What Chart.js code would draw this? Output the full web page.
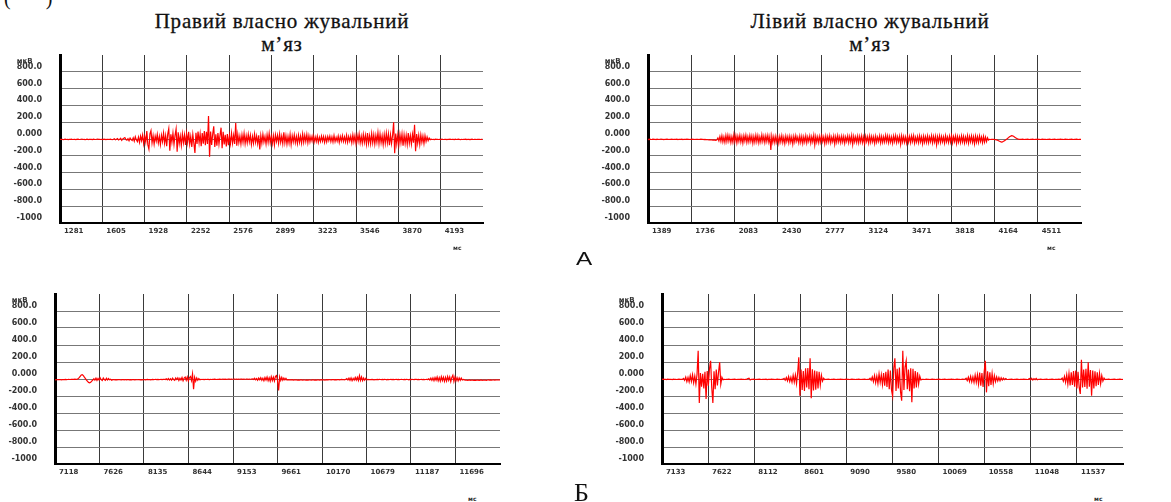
<!DOCTYPE html>
<html lang="uk">
<head>
<meta charset="utf-8">
<title>ЕМГ власно жувальних м’язів</title>
<script src="https://cdn.jsdelivr.net/npm/chart.js@4.4.1/dist/chart.umd.min.js"></script>
<style>
  html, body { margin: 0; padding: 0; background: #fff; }
  body { width: 1171px; height: 502px; position: relative; overflow: hidden; }
  canvas { position: absolute; }
  .title { position: absolute; width: 340px; text-align: center; font-family: "Liberation Serif", "DejaVu Serif", serif;
           font-size: 21px; line-height: 23px; letter-spacing: 0.8px; color: #111; -webkit-text-stroke: 0.3px #111; }
  .unit { position: absolute; font-family: "DejaVu Sans", sans-serif; font-weight: bold; font-size: 6px; color: #333; }
  .mark { position: absolute; color: #111; line-height: 1; }
</style>
</head>
<body>

<div class="mark" style="left:4px; top:-12px; font-family:'Liberation Serif',serif; font-size:20px;">(&nbsp;&nbsp;&nbsp;&nbsp;&nbsp;&nbsp;&nbsp;)</div>
<div class="title" style="left:112px; top:10px;">Правий власно жувальний<br>м’яз</div>
<div class="title" style="left:700px; top:10px;">Лівий власно жувальний<br>м’яз</div>

<canvas id="right-a" width="500" height="218" style="left:0px; top:30px;"></canvas>
<canvas id="left-a" width="510" height="218" style="left:585px; top:30px;"></canvas>
<canvas id="right-b" width="520" height="220" style="left:0px; top:269px;"></canvas>
<canvas id="left-b" width="586" height="220" style="left:585px; top:269px;"></canvas>

<div class="unit" style="left:453px; top:244px;">мс</div>
<div class="unit" style="left:1047px; top:244px;">мс</div>
<div class="unit" style="left:468px; top:495px;">мс</div>
<div class="unit" style="left:1094px; top:495px;">мс</div>

<div class="mark" style="left:576px; top:250px; font-family:'Liberation Sans',sans-serif; font-size:18px; transform:scaleX(1.35); transform-origin:left top;">А</div>
<div class="mark" style="left:574px; top:480px; font-family:'Liberation Serif',serif; font-size:26px;">Б</div>

<script>
// time axis labels (ms) of each recording
const ticksRightA = [1281, 1605, 1928, 2252, 2576, 2899, 3223, 3546, 3870, 4193];
const ticksLeftA  = [1389, 1736, 2083, 2430, 2777, 3124, 3471, 3818, 4164, 4511];
const ticksRightB = [7118, 7626, 8135, 8644, 9153, 9661, 10170, 10679, 11187, 11696];
const ticksLeftB  = [7133, 7622, 8112, 8601, 9090, 9580, 10069, 10558, 11048, 11537];

// amplitude axis labels (µV), bottom to top
const yTickLabels = ['-1000', '-800.0', '-600.0', '-400.0', '-200.0', '0.000', '200.0', '400.0', '600.0', '800.0', ''];

// sampling step of the traces (ms)
const sampleStepA = 8;
const sampleStepB = 12;

// А – right masseter (µV)
const emgRightA = [
  -4, -6, -3, -7, -5, -2, -6, -4, -8, -3,
  -5, -2, -6, -5, -3, -7, -4, -1, -5, -6,
  -3, -2, -6, -4, -7, -5, -2, -6, -3, -5,
  -4, -7, -2, -5, -6, -3, -1, -5, -4, -6,
  -3, -6, -2, -5, -8, -3, -4, -6, -2, -5,
  -7, -3, 4, -10, -2, 6, -12, -4, 8, -15,
  2, 10, 18, -6, -14, 4, -20, 12, -8, -18,
  15, -25, 28, -10, -32, 22, -40, 35, -20, 48,
  -55, 30, -38, 95, -70, -120, 60, 100, -45, 40,
  -60, 35, -25, 55, -48, 30, -65, 45, -30, 70,
  -50, 40, -85, 60, 125, -140, 55, -40, 70, -65,
  45, 120, -150, 80, -55, 35, -75, 60, -45, 50,
  -70, 65, -40, 85, -60, 30, -95, 55, -50, -165,
  75, -60, 90, -45, 60, -85, 70, -55, 95, -75,
  85, -60, 275, -210, 90, -70, 60, 150, -95, 55,
  -80, 70, -60, 45, 135, -110, 85, -65, 50, -90,
  60, -75, 40, -55, 70, -50, 45, -60, 190, -80,
  55, -45, 35, -60, 50, -40, 65, -55, 40, -45,
  55, -35, 45, -65, 30, -50, 60, -40, 35, -55,
  45, -125, 40, -50, 55, -35, 30, -60, 50, -40,
  65, -45, 35, -55, 40, -70, 50, -30, 45, -50,
  60, -40, 35, -55, 80, -45, 40, -60, 30, -50,
  55, -65, 40, -35, 50, -45, 30, -55, 45, -40,
  35, -50, 60, -40, 45, -30, 55, -45, 40, -35,
  30, -25, 40, -35, 25, -30, 35, -40, 20, -30,
  35, -25, 30, -40, 25, -35, 30, -20, 35, -30,
  25, -35, 40, -30, 20, -25, 35, -40, 30, -25,
  40, -30, 25, -35, 45, -40, 30, -25, 35, -45,
  50, -35, 40, -55, 45, -30, 60, -45, 35, -50,
  55, -40, 45, -60, 70, -50, 40, -55, 65, -45,
  50, -60, 45, -40, 75, -55, 60, -45, 40, -65,
  55, -50, 70, -45, 60, -75, 50, -55, 45, 200,
  -170, 65, -60, 50, -70, 55, -45, 60, -80, 50,
  -55, 45, -65, 70, -50, 40, -60, 55, -45, 170,
  -145, 60, -50, 45, -65, 50, -40, 35, -55, 40,
  -30, 25, -20, 12, -8, -3, -6, -4, -7, -2,
  -5, -3, -6, -4, -8, -2, -5, -6, -3, -4,
  -7, -3, -5, -2, -6, -4, -5, -8, -3, -6,
  -4, -2, -5, -7, -3, -6, -4, -5, -2, -6,
  -3, -5, -7, -4, -2, -6, -5, -3, -6, -4,
  -5, -3, -6, -4, -5
];

// А – left masseter (µV)
const emgLeftA = [
  -3, -5, -2, -6, -4, -1, -5, -3, -6, -2,
  -4, -6, -3, -2, -5, -4, -7, -3, -5, -2,
  -4, -6, -3, -5, -2, -6, -4, -3, -5, -2,
  -6, -3, -4, -5, -2, -6, -3, -5, -4, -2,
  -5, -3, -6, -4, -2, -5, -3, -6, -4, -5,
  -3, -6, -4, -2, -5, -3, -7, -4, -8, -6,
  -9, -11, -8, -12, -10, -14, -11, -13, -15, -10,
  12, -22, 30, -28, 38, -35, 25, -40, 42, -30,
  45, -25, 35, -42, 28, -38, 50, -30, 40, -45,
  32, -28, 44, -36, 30, -48, 38, -25, 46, -40,
  28, -35, 42, -30, 36, -50, 30, -38, 45, -32,
  40, -45, 26, -35, 48, -30, 34, -42, 38, -28,
  44, -36, 30, -130, 35, -40, 28, -45, 32, -38,
  25, -50, 30, -35, 40, -42, 22, -55, 35, -30,
  28, -46, 33, -38, 25, -60, 30, -35, 40, -28,
  22, -44, 35, -40, 30, -52, 26, -36, 38, -45,
  24, -30, 36, -48, 28, -34, 42, -70, 30, -38,
  25, -42, 32, -36, 40, -30, 26, -55, 34, -40,
  30, -35, 38, -45, 22, -32, 35, -60, 28, -38,
  40, -34, 26, -42, 33, -36, 30, -50, 24, -30,
  36, -44, 28, -38, 40, -65, 32, -35, 26, -40,
  34, -46, 30, -36, 38, -42, 25, -55, 33, -30,
  28, -48, 36, -40, 30, -34, 26, -52, 34, -38,
  22, -30, 38, -45, 30, -40, 26, -36, 42, -32,
  35, -44, 28, -38, 24, -50, 36, -30, 40, -42,
  26, -34, 32, -62, 38, -36, 30, -40, 25, -46,
  34, -38, 28, -44, 36, -30, 40, -48, 22, -36,
  30, -42, 38, -34, 26, -56, 32, -38, 28, -40,
  36, -44, 24, -32, 40, -46, 30, -36, 34, -68,
  28, -38, 36, -42, 30, -34, 26, -48, 38, -32,
  24, -40, 34, -36, 40, -44, 28, -30, 36, -52,
  30, -38, 26, -42, 38, -34, 32, -46, 24, -36,
  40, -48, 30, -34, 36, -40, 26, -58, 34, -38,
  28, -42, 36, -30, 24, -44, 32, -36, 22, -30,
  15, -12, -4, -6, -3, -5, -4, -6, -8, -10,
  -14, -20, -26, -32, -36, -34, -28, -20, -12, -4,
  6, 16, 26, 34, 40, 38, 32, 24, 16, 8,
  2, -2, -4, -3, -5, -2, -4, -6, -3, -5,
  -2, -4, -6, -3, -5, -2, -4, -6, -3, -4,
  -2, -5, -3, -6, -4, -2, -5, -3, -4, -6,
  -3, -5, -2, -4, -6, -3, -5, -2, -4, -6,
  -3, -5, -4, -2, -5, -3, -6, -4, -2, -5,
  -3, -6, -4, -5, -2, -4, -6, -3, -5, -2,
  -4, -6, -3, -5, -4
];

// Б – right masseter (µV)
const emgRightB = [
  -10, -8, -9, -7, -8, -6, -9, -7, -6, -8,
  -5, -7, -6, -4, -6, -5, -3, -5, -4, -2,
  -4, -3, 2, 15, 32, 48, 52, 40, 22, 5,
  -12, -28, -40, -46, -38, -25, -12, 4, -14, 10,
  -16, 6, -12, 14, -8, -18, 12, -6, -15, 8,
  -12, 5, -10, -3, -14, -8, -6, -9, -7, -10,
  -8, -6, -9, -11, -7, -8, -10, -6, -9, -7,
  -8, -10, -7, -9, -6, -8, -11, -7, -9, -8,
  -6, -9, -7, -10, -8, -6, -9, -7, -5, -8,
  -6, -9, -7, -5, -8, -6, -4, -7, -5, -8,
  -6, -4, -7, -5, -3, -6, 2, -10, 6, -12,
  4, -14, 10, -8, -16, 12, -6, 14, -18, 8,
  -12, 18, -20, 10, 22, -15, 25, -22, 15, 30,
  -18, 60, -120, 20, -25, 12, -15, 6, -10, -4,
  -6, -5, -7, -4, -6, -3, -5, -7, -4, -6,
  -3, -5, -2, -4, -6, -3, -5, -2, -4, -3,
  -1, -4, -2, -5, -3, 0, -2, -4, -1, -3,
  -2, 0, -3, -1, -4, -2, -3, 0, -2, -4,
  -1, -3, -2, 0, -4, -1, -3, -2, 2, -6,
  8, -10, 5, -14, 12, -8, 16, -15, 10, -20,
  18, -12, 24, -20, 15, -26, 28, -18, 22, -24,
  30, 40, -20, -135, 25, -18, 20, -15, 12, -10,
  8, -12, -8, -10, -9, -11, -8, -12, -10, -9,
  -11, -13, -10, -12, -9, -11, -13, -10, -12, -14,
  -11, -13, -10, -12, -14, -11, -9, -12, -10, -13,
  -11, -9, -12, -10, -8, -11, -9, -12, -10, -8,
  -10, -7, -9, -11, -8, -6, -9, -7, -10, -8,
  -6, -9, -7, -5, -8, -6, -9, -4, 4, -12,
  10, -16, 14, -20, 8, -14, 18, -12, 20, -18,
  40, -16, 24, -20, 12, -14, 8, -10, -4, -8,
  -6, -8, -5, -7, -9, -6, -8, -5, -7, -4,
  -6, -8, -5, -7, -4, -6, -9, -5, -7, -6,
  -4, -7, -5, -8, -6, -3, -7, -5, -8, -6,
  -4, -6, -8, -5, -7, -3, -6, -9, -5, -7,
  -4, -6, -8, -5, -3, -7, -5, -8, -6, -4,
  -7, -5, -8, -6, -4, -7, 2, -12, 10, -16,
  14, -20, 18, -14, 24, -22, 16, -26, 28, -18,
  22, -28, 20, -24, 30, -16, 26, -30, 18, 45,
  -28, 24, -20, 16, -22, 12, -16, 10, -12, -6,
  -10, -14, -12, -16, -13, -11, -15, -12, -14, -16,
  -13, -15, -12, -14, -16, -13, -11, -15, -12, -14,
  -13, -15, -12, -10, -13, -11, -14, -12, -10, -13,
  -11, -12, -10, -12, -11
];

// Б – left masseter (µV)
const emgLeftB = [
  -4, -2, -5, -3, -6, -2, -4, -5, -3, -6,
  -2, -5, -3, -6, -4, -2, -5, -3, -4, 8,
  -15, 22, -30, 18, -35, 40, -28, 50, -45, 35,
  -60, 55, 333, -282, 70, -90, 60, -110, 85, -235,
  95, -80, 120, 215, -100, -282, 90, -120, 110, -75,
  80, 196, -60, 20, -8, -4, -6, -3, -5, -2,
  -4, -6, -3, -5, -2, -4, -6, -3, -5, -4,
  -2, -5, -3, -6, -4, -2, 4, 10, -12, -3,
  -5, -2, -4, -6, -3, -5, -2, -4, -6, -3,
  -5, -4, -2, -6, -3, -5, -4, -2, -5, -3,
  -6, -4, -2, -5, -3, -6, -4, -2, 8, -14,
  18, -22, 28, -30, 20, -38, 42, -35, 48, -55,
  70, 255, -196, 110, -130, 95, -140, 125, -100, 130,
  -120, 243, -227, 115, -135, 100, -125, 90, -110, 85,
  -70, 45, -25, 10, -6, -3, -5, -2, -4, -6,
  -3, -5, -2, -4, -6, -3, -5, -4, -2, -5,
  -3, -6, -4, -2, -5, -3, -6, -4, -2, -5,
  -3, -6, -4, -5, -2, -4, -6, -3, -5, -2,
  -4, -6, -3, -5, 8, -15, 25, -30, 40, -45,
  35, -55, 60, -40, 50, -65, 70, -80, 85, -95,
  110, -120, 100, -130, -204, 125, 243, -140, 120, -110,
  135, -150, -255, 333, -130, 140, 215, -120, 110, -145,
  125, -274, 120, -110, 95, -100, 80, -60, 35, -10,
  -5, -3, -6, -4, -2, -5, -3, -6, -4, -2,
  -5, -3, -6, -4, -5, -2, -4, -6, -3, -5,
  -2, -4, -6, -3, -5, -4, -2, -5, -3, -6,
  -4, -2, -5, -3, -6, -4, -2, -5, -3, 10,
  -18, 22, -28, 30, -35, 25, -40, 45, -38, 50,
  -60, 75, -80, 70, -95, 85, 215, -157, 90, -85,
  80, -70, 65, -55, 40, -30, 25, -22, 18, -20,
  15, -12, 10, -8, 6, -4, -6, -3, -5, -2,
  -4, -6, -3, -5, -2, -4, -6, -3, -5, -4,
  -2, -5, -3, -6, -4, 6, -10, 8, -12, 5,
  -8, 6, -9, -3, -5, -2, -4, -6, -3, -5,
  -2, -4, -6, -3, -5, -2, -4, -6, -3, -5,
  -4, -2, -5, -3, 10, -25, 30, -40, 50, -60,
  65, -75, 80, -70, 95, -90, 100, -110, 85, -95,
  -176, 227, -100, 110, -95, 120, -115, 196, -90, 105,
  -196, 100, -110, 90, -85, 80, -70, 65, -55, 40,
  -25, 12, -6, -3, -5, -2, -4, -6, -3, -5,
  -2, -4, -6, -3, -5, -2, -4, -6, -3
];

// draws the "мкВ" unit above the top amplitude label
const unitLabel = {
  id: 'unitLabel',
  afterDraw(chart) {
    const ctx = chart.ctx;
    const y = chart.scales.y;
    ctx.save();
    ctx.font = 'bold 8px "DejaVu Sans"';
    const w = ctx.measureText('800.0').width;
    ctx.font = 'bold 7px "DejaVu Sans"';
    ctx.fillStyle = '#333';
    ctx.textAlign = 'left';
    ctx.textBaseline = 'middle';
    ctx.fillText('мкВ', y.right - 18 - w, y.getPixelForValue(800) - 11);
    ctx.restore();
  }
};

function createChart(id, ticks, values, step, axisWidth, pad) {
  const start = ticks[0];
  const end = ticks[ticks.length - 1] + (ticks[ticks.length - 1] - ticks[0]) / (ticks.length - 1);
  const points = values.map((v, i) => ({ x: start + i * step, y: v }));
  const ctx = document.getElementById(id).getContext('2d');
  return new Chart(ctx, {
    type: 'line',
    data: {
      datasets: [{
        data: points,
        borderColor: '#ff0000',
        borderWidth: 1.2,
        pointRadius: 0,
        tension: 0
      }]
    },
    options: {
      responsive: false,
      animation: false,
      parsing: false,
      layout: { padding: pad },
      plugins: { legend: { display: false }, tooltip: { enabled: false } },
      scales: {
        x: {
          type: 'linear',
          min: start,
          max: end,
          afterBuildTicks: (scale) => { scale.ticks = ticks.map(v => ({ value: v })); },
          afterFit: (scale) => { scale.height = 16; },
          grid: { color: '#3a3a3a', lineWidth: 1, drawTicks: false },
          border: { color: '#000', width: 2 },
          ticks: {
            align: 'start',
            labelOffset: 4,
            padding: 4,
            maxRotation: 0,
            autoSkip: false,
            color: '#333',
            font: { family: 'DejaVu Sans', weight: 'bold', size: 7 },
            callback: (v) => String(v)
          }
        },
        y: {
          min: -1000,
          max: 1000,
          afterFit: (scale) => { scale.width = axisWidth; },
          grid: {
            color: (c) => c.tick.value === 1000 ? 'rgba(0,0,0,0)' : '#777',
            lineWidth: 1,
            drawTicks: false
          },
          border: { color: '#000', width: 3 },
          ticks: {
            stepSize: 200,
            padding: 18,
            labelOffset: -5,
            color: '#333',
            font: { family: 'DejaVu Sans', weight: 'bold', size: 8 },
            callback: (v, i) => yTickLabels[i]
          }
        }
      }
    },
    plugins: [unitLabel]
  });
}

// padding of 25 above and below keeps room for the tick label padding Chart.js reserves
createChart('right-a', ticksRightA, emgRightA, sampleStepA, 60, { left: 0, top: 25, right: 17, bottom: 9 });
createChart('left-a', ticksLeftA, emgLeftA, sampleStepA, 63, { left: 0, top: 25, right: 14, bottom: 9 });
createChart('right-b', ticksRightB, emgRightB, sampleStepB, 55, { left: 0, top: 25, right: 20, bottom: 9 });
createChart('left-b', ticksLeftB, emgLeftB, sampleStepB, 77, { left: 0, top: 25, right: 48, bottom: 9 });
</script>
</body>
</html>
